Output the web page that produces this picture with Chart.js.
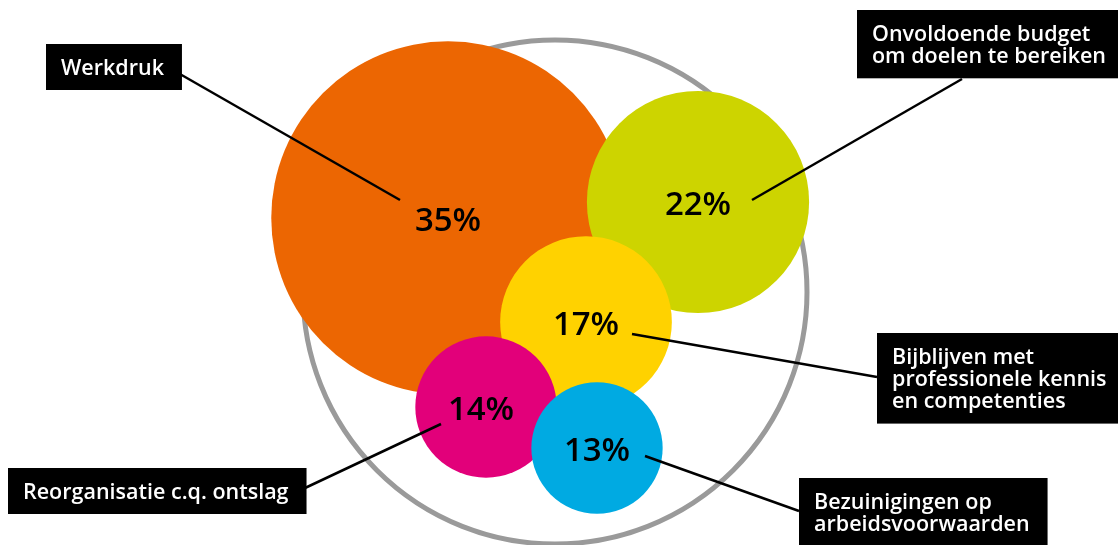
<!DOCTYPE html>
<html lang="nl">
<head>
<meta charset="utf-8">
<title>Werkdruk en andere knelpunten</title>
<script src="https://cdn.jsdelivr.net/npm/chart.js@4.4.1/dist/chart.umd.min.js"></script>
<style>
  html, body { margin: 0; padding: 0; background: #ffffff; overflow: hidden; }
  canvas { display: block; }
</style>
</head>
<body>
<canvas id="bubbles" width="1118" height="545"></canvas>
<script>
// Knelpunten and the share (%) of respondents naming each one
const categories = [
  'Werkdruk',
  'Onvoldoende budget om doelen te bereiken',
  'Bijblijven met professionele kennis en competenties',
  'Reorganisatie c.q. ontslag',
  'Bezuinigingen op arbeidsvoorwaarden'
];
const labelLines = [
  ['Werkdruk'],
  ['Onvoldoende budget', 'om doelen te bereiken'],
  ['Bijblijven met', 'professionele kennis', 'en competenties'],
  ['Reorganisatie c.q. ontslag'],
  ['Bezuinigingen op', 'arbeidsvoorwaarden']
];
const shares = [35, 22, 17, 14, 13];
const colors = ['#EC6602', '#CDD400', '#FFD200', '#E2007A', '#00AAE2'];

// Layout on a grid with x to the right and y downwards
const bubbleCenters = [[448, 218], [698, 202], [586, 322], [486, 407], [597, 448]];
const labelShiftX = [0, 0, 0, -5, 0];
const RADIUS_PER_POINT = 5.05;          // bubble radius per percentage point
const ring = { x: 555, y: 292, r: 252 };
const callouts = [
  { box: [46, 44],   from: [400, 200], to: [179, 73.5] },
  { box: [857, 10],  from: [752, 200], to: [962, 79] },
  { box: [877, 333], from: [632, 334], to: [877, 377] },
  { box: [8, 468],   from: [441, 424], to: [305, 488] },
  { box: [799, 478], from: [645, 456], to: [799, 511] }
];

const LABEL_FONT = '600 21.5px "Open Sans"';
const VALUE_FONT = '600 33px "Open Sans"';
const LINE_STEP = 22.3;

const bubbleData = shares.map((v, i) => ({
  x: bubbleCenters[i][0],
  y: bubbleCenters[i][1],
  r: v * RADIUS_PER_POINT,
  share: v
}));

// Grey outline circle behind the bubbles
const ringPlugin = {
  id: 'ring',
  beforeDatasetsDraw(chart) {
    const { ctx, scales: { x, y } } = chart;
    ctx.save();
    ctx.beginPath();
    ctx.arc(x.getPixelForValue(ring.x), y.getPixelForValue(ring.y), ring.r, 0, Math.PI * 2);
    ctx.lineWidth = 5;
    ctx.strokeStyle = '#9A9A9A';
    ctx.stroke();
    ctx.restore();
  }
};

// Leader lines, black label boxes and percentage labels
const calloutPlugin = {
  id: 'callouts',
  afterDatasetsDraw(chart) {
    const { ctx, scales: { x, y } } = chart;
    const meta = chart.getDatasetMeta(0);
    ctx.save();

    ctx.strokeStyle = '#000000';
    ctx.lineWidth = 2.5;
    ctx.lineCap = 'butt';
    callouts.forEach(c => {
      ctx.beginPath();
      ctx.moveTo(x.getPixelForValue(c.from[0]), y.getPixelForValue(c.from[1]));
      ctx.lineTo(x.getPixelForValue(c.to[0]), y.getPixelForValue(c.to[1]));
      ctx.stroke();
    });

    ctx.font = LABEL_FONT;
    ctx.textAlign = 'left';
    ctx.textBaseline = 'alphabetic';
    callouts.forEach((c, i) => {
      const lines = labelLines[i];
      const left = x.getPixelForValue(c.box[0]);
      const top = y.getPixelForValue(c.box[1]);
      const w = Math.max(...lines.map(t => ctx.measureText(t).width)) + 33;
      const h = 30.5 + (lines.length - 1) * LINE_STEP + 15.5;
      ctx.fillStyle = '#000000';
      ctx.fillRect(left, top, w, h);
      ctx.fillStyle = '#FFFFFF';
      lines.forEach((t, k) => ctx.fillText(t, left + 15, top + 30.5 + k * LINE_STEP));
    });

    ctx.font = VALUE_FONT;
    ctx.textAlign = 'center';
    ctx.fillStyle = '#000000';
    meta.data.forEach((pt, i) => {
      ctx.fillText(shares[i] + '%', pt.x + labelShiftX[i], pt.y + 13);
    });
    ctx.restore();
  }
};

new Chart(document.getElementById('bubbles'), {
  type: 'bubble',
  data: {
    labels: categories,
    datasets: [{
      label: 'Aandeel (%)',
      data: bubbleData,
      backgroundColor: colors,
      borderWidth: 0,
      hoverRadius: 0,
      clip: false
    }]
  },
  options: {
    responsive: false,
    animation: false,
    events: [],
    devicePixelRatio: 1,
    layout: { padding: 0, autoPadding: false },
    plugins: { legend: { display: false }, tooltip: { enabled: false } },
    scales: {
      x: { type: 'linear', min: 0, max: 1118, display: false },
      y: { type: 'linear', min: 0, max: 545, reverse: true, display: false }
    }
  },
  plugins: [ringPlugin, calloutPlugin]
});
</script>
</body>
</html>
